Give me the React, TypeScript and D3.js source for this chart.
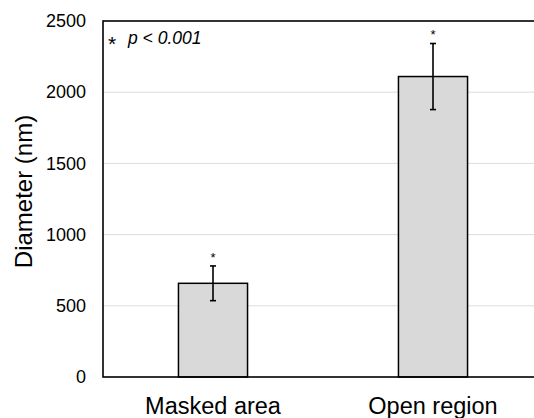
import { useEffect, useRef } from "react";
import * as d3 from "d3";

const categories = ["Masked area", "Open region"];
const means = [658, 2110];
const errors = [122, 232];
const yTicks = [0, 500, 1000, 1500, 2000, 2500];
const noteText = "p < 0.001";

const FONT = "'Liberation Sans', Arial, sans-serif";

function App() {
  const ref = useRef<SVGSVGElement | null>(null);

  useEffect(() => {
    drawChart();
  }, []);

  function drawChart() {
    const width = 534,
      height = 418;
    const margin = { top: 21, right: -9, bottom: 41, left: 103 };

    const svg = d3.select(ref.current);
    svg.selectAll("*").remove();

    const x = d3
      .scaleBand()
      .domain(categories)
      .range([margin.left, width - margin.right])
      .paddingInner(0.686)
      .paddingOuter(0.343);

    const y = d3
      .scaleLinear()
      .domain([0, 2500])
      .range([height - margin.bottom, margin.top]);

    const data = categories.map((c, i) => ({ cat: c, mean: means[i], err: errors[i] }));

    // gridlines
    svg
      .append("g")
      .selectAll("line")
      .data(yTicks.slice(1, -1))
      .join("line")
      .attr("x1", margin.left)
      .attr("x2", width - margin.right)
      .attr("y1", (d) => y(d))
      .attr("y2", (d) => y(d))
      .attr("stroke", "#dcdcdc")
      .attr("stroke-width", 1);

    // bars
    svg
      .append("g")
      .selectAll("rect")
      .data(data)
      .join("rect")
      .attr("x", (d) => x(d.cat)!)
      .attr("y", (d) => y(d.mean))
      .attr("width", x.bandwidth())
      .attr("height", (d) => y(0) - y(d.mean))
      .attr("fill", "#d9d9d9")
      .attr("stroke", "#000")
      .attr("stroke-width", 1.5);

    // error bars
    const eb = svg.append("g").attr("stroke", "#000").attr("stroke-width", 1.6);
    data.forEach((d) => {
      const cx = x(d.cat)! + x.bandwidth() / 2;
      eb.append("line")
        .attr("x1", cx).attr("x2", cx)
        .attr("y1", y(d.mean - d.err)).attr("y2", y(d.mean + d.err));
      [d.mean - d.err, d.mean + d.err].forEach((v) => {
        eb.append("line")
          .attr("x1", cx - 3).attr("x2", cx + 3)
          .attr("y1", y(v)).attr("y2", y(v));
      });
      svg
        .append("text")
        .attr("x", cx)
        .attr("y", y(d.mean + d.err) - 4)
        .attr("text-anchor", "middle")
        .attr("font-family", FONT)
        .attr("font-size", 13)
        .attr("fill", "#000")
        .text("*");
    });

    // plot frame
    svg
      .append("rect")
      .attr("x", margin.left)
      .attr("y", margin.top)
      .attr("width", width - margin.right - margin.left)
      .attr("height", y(0) - margin.top)
      .attr("fill", "none")
      .attr("stroke", "#000")
      .attr("stroke-width", 1.6);

    // y axis
    svg
      .append("g")
      .attr("transform", `translate(${margin.left},0)`)
      .call(
        d3.axisLeft(y).tickValues(yTicks).tickFormat(d3.format("d")).tickSize(0).tickPadding(17)
      )
      .call((g) => g.select(".domain").remove())
      .call((g) =>
        g.selectAll("text").attr("font-family", FONT).attr("font-size", 18).attr("fill", "#000")
      );

    // x labels
    svg
      .append("g")
      .selectAll("text")
      .data(categories)
      .join("text")
      .attr("x", (d) => x(d)! + x.bandwidth() / 2)
      .attr("y", 414)
      .attr("text-anchor", "middle")
      .attr("font-family", FONT)
      .attr("font-size", 23.5)
      .attr("fill", "#000")
      .text((d) => d);

    // y title
    svg
      .append("text")
      .attr("transform", "rotate(-90)")
      .attr("x", -191.5)
      .attr("y", 32)
      .attr("text-anchor", "middle")
      .attr("font-family", FONT)
      .attr("font-size", 24)
      .attr("fill", "#000")
      .text("Diameter (nm)");

    // significance note
    svg
      .append("text")
      .attr("x", 108)
      .attr("y", 51)
      .attr("font-family", FONT)
      .attr("font-size", 21)
      .attr("fill", "#000")
      .text("*");
    svg
      .append("text")
      .attr("x", 128)
      .attr("y", 44)
      .attr("font-family", FONT)
      .attr("font-size", 17.5)
      .attr("font-style", "italic")
      .attr("fill", "#000")
      .text(noteText);
  }

  return (
    <svg
      ref={ref}
      width={534}
      height={418}
      style={{ position: "absolute", left: 0, top: 0, background: "#fff" }}
    />
  );
}

export default App;
